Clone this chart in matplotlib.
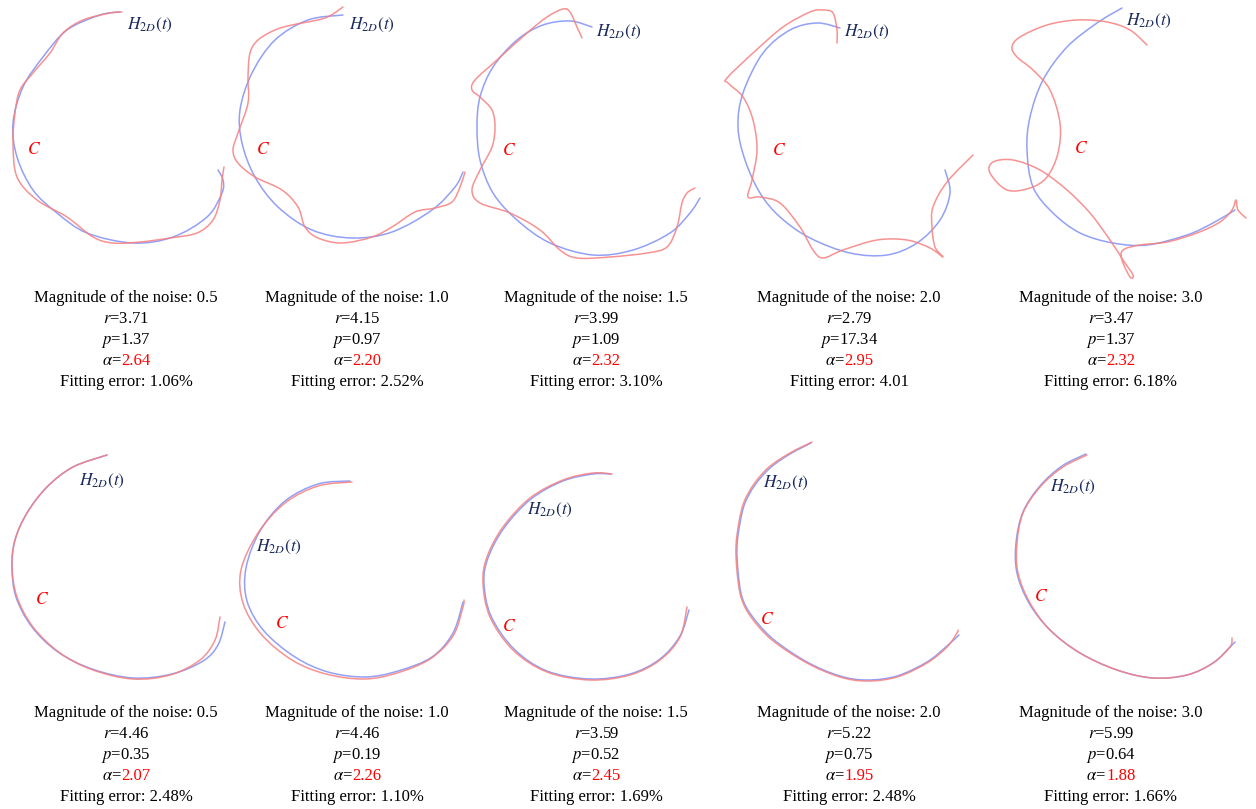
import matplotlib
matplotlib.use('Agg')
import matplotlib.pyplot as plt
from matplotlib.path import Path
from matplotlib.patches import PathPatch

plt.rcParams['font.family'] = 'serif'
plt.rcParams['font.serif'] = ['Liberation Serif', 'DejaVu Serif']
plt.rcParams['mathtext.fontset'] = 'stix'

# noise levels shared by both rows
noise = ['0.5', '1.0', '1.5', '2.0', '3.0']

# fitted parameters, upper row
r_top = ['3.71', '4.15', '3.99', '2.79', '3.47']
p_top = ['1.37', '0.97', '1.09', '17.34', '1.37']
alpha_top = ['2.64', '2.20', '2.32', '2.95', '2.32']
err_top = ['1.06%', '2.52%', '3.10%', '4.01', '6.18%']

# fitted parameters, lower row
r_bot = ['4.46', '4.46', '3.59', '5.22', '5.99']
p_bot = ['0.35', '0.19', '0.52', '0.75', '0.64']
alpha_bot = ['2.07', '2.26', '2.45', '1.95', '1.88']
err_bot = ['2.48%', '1.10%', '1.69%', '2.48%', '1.66%']

# fitted curves H_2D(t), upper row (sheet coordinates, y down)
fit_top = [
    [(120, 12), (100, 15), (67, 30), (43, 57), (23, 87), (13, 123), (17, 157), (33, 190), (57, 213),
     (87, 233), (133, 243), (173, 237), (207, 217), (222, 193), (223, 180), (218, 170)],
    [(343, 15), (308, 20), (275, 40), (252, 73), (240, 110), (242, 143), (255, 177), (278, 207),
     (312, 230), (352, 238), (392, 232), (432, 210), (455, 187), (463, 172)],
    [(592, 27), (570, 21), (543, 25), (517, 40), (493, 67), (480, 97), (477, 127), (480, 160),
     (493, 193), (517, 220), (550, 243), (593, 255), (633, 250), (670, 233), (690, 213), (700, 198)],
    [(840, 28), (817, 23), (790, 30), (763, 53), (743, 93), (738, 127), (745, 160), (760, 193),
     (780, 217), (810, 238), (850, 253), (887, 255), (917, 243), (940, 220), (950, 193), (945, 170)],
    [(1122, 8), (1097, 23), (1067, 47), (1043, 80), (1030, 117), (1027, 150), (1033, 187),
     (1053, 213), (1080, 233), (1113, 243), (1147, 245), (1187, 235), (1213, 223), (1235, 210)],
]

# noisy input curves C, upper row
noisy_top = [
    [(122, 12), (110, 13), (83, 20), (63, 33), (50, 53), (33, 73), (20, 90), (15, 113), (13, 143),
     (17, 177), (37, 200), (67, 217), (93, 237), (113, 243), (140, 242), (170, 238), (197, 233),
     (213, 220), (220, 200), (222, 180), (224, 167)],
    [(343, 7), (325, 18), (292, 25), (275, 30), (258, 40), (250, 53), (248, 77), (248, 103),
     (238, 133), (233, 150), (238, 163), (255, 177), (282, 190), (298, 207), (305, 227), (318, 238),
     (342, 243), (372, 237), (392, 227), (415, 212), (435, 208), (452, 202), (460, 187), (465, 172)],
    [(582, 38), (577, 27), (570, 12), (563, 9), (547, 17), (527, 33), (497, 60), (475, 80), (472, 90),
     (480, 97), (492, 110), (495, 127), (492, 147), (480, 170), (472, 190), (480, 203), (510, 213),
     (540, 230), (560, 250), (577, 258), (610, 257), (647, 253), (667, 247), (677, 227), (682, 203),
     (687, 193), (695, 188)],
    [(837, 43), (837, 30), (833, 13), (823, 10), (810, 12), (783, 27), (753, 53), (727, 78), (728, 83),
     (743, 97), (753, 120), (757, 150), (752, 180), (748, 197), (760, 197), (780, 203), (800, 227),
     (813, 250), (823, 258), (843, 250), (877, 240), (907, 240), (930, 248), (943, 257), (935, 247),
     (932, 227), (933, 207), (947, 182), (973, 155)],
    [(1147, 45), (1130, 30), (1107, 22), (1077, 20), (1047, 25), (1020, 37), (1012, 47), (1017, 57),
     (1033, 70), (1050, 90), (1060, 123), (1058, 153), (1047, 177), (1030, 188), (1007, 190),
     (990, 173), (993, 162), (1013, 160), (1040, 170), (1067, 190), (1090, 213), (1110, 240),
     (1123, 260), (1133, 275), (1130, 277), (1122, 260), (1123, 250), (1140, 245), (1167, 242),
     (1197, 233), (1220, 222), (1232, 210), (1236, 200), (1238, 210), (1246, 218)],
]

# fitted curves, lower row
fit_bot = [
    [(107, 455), (73, 467), (47, 487), (27, 513), (15, 540), (12, 567), (16, 597), (32, 627),
     (58, 652), (92, 669), (133, 678), (172, 674), (203, 661), (218, 645), (225, 622)],
    [(350, 481), (318, 484), (285, 501), (260, 531), (246, 568), (247, 601), (264, 631), (295, 657),
     (328, 672), (365, 677), (398, 671), (432, 657), (453, 633), (463, 602)],
    [(611, 474), (593, 474), (563, 481), (531, 499), (504, 528), (488, 558), (484, 583), (491, 616),
     (514, 649), (547, 671), (590, 679), (630, 674), (660, 659), (680, 636), (689, 610)],
    [(811, 443), (790, 454), (770, 468), (755, 485), (745, 503), (740, 523), (737, 546), (738, 571),
     (742, 597), (752, 616), (773, 639), (807, 662), (840, 676), (867, 680), (897, 676), (927, 662),
     (947, 646), (959, 635)],
    [(1086, 454), (1062, 466), (1040, 486), (1023, 512), (1016, 543), (1017, 573), (1029, 603),
     (1050, 630), (1080, 653), (1117, 670), (1153, 678), (1187, 675), (1213, 663), (1230, 647),
     (1235, 642)],
]

# noisy input curves, lower row
noisy_bot = [
    [(107, 455), (73, 467), (47, 487), (27, 513), (15, 540), (12, 567), (17, 597), (33, 627),
     (60, 653), (93, 670), (133, 679), (170, 675), (200, 660), (215, 640), (220, 617)],
    [(352, 482), (318, 486), (285, 503), (258, 533), (241, 570), (243, 603), (261, 634), (292, 660),
     (326, 674), (364, 679), (397, 673), (430, 659), (453, 636), (463, 607), (464, 600)],
    [(612, 474), (593, 473), (563, 480), (530, 498), (503, 527), (487, 557), (483, 583), (490, 617),
     (513, 650), (547, 672), (590, 680), (630, 675), (660, 660), (680, 637), (687, 607)],
    [(812, 442), (790, 453), (769, 467), (754, 484), (744, 502), (739, 522), (736, 546), (737, 571),
     (741, 597), (751, 617), (772, 640), (807, 663), (840, 677), (867, 681), (897, 677), (927, 663),
     (947, 647), (957, 633), (958, 630)],
    [(1087, 455), (1063, 467), (1040, 487), (1023, 513), (1017, 543), (1018, 573), (1030, 603),
     (1050, 630), (1080, 653), (1117, 670), (1153, 678), (1187, 675), (1213, 663), (1230, 647),
     (1232, 638)],
]

BLUE = '#7f8ff5'
RED = '#f77f7f'
NAVY = '#1b2a5c'

text_x = [126, 357, 596, 849, 1111]
h_top = [(150, 25), (372, 25), (619, 32), (867, 32), (1149, 21)]
c_top = [(34, 150), (263, 150), (509, 151), (779, 151), (1081, 149)]
h_bot = [(102, 481), (279, 547), (550, 510), (786, 483), (1073, 487)]
c_bot = [(42, 600), (282, 624), (509, 627), (767, 620), (1041, 597)]

fig = plt.figure(figsize=(12.56, 8.09), dpi=100)
ax = fig.add_axes([0, 0, 1, 1])
ax.set_xlim(0, 1256)
ax.set_ylim(809, 0)
ax.axis('off')


def draw_curve(pts, color):
    # smooth cubic path through the traced points (Catmull-Rom handles)
    verts = [pts[0]]
    codes = [Path.MOVETO]
    n = len(pts)
    for i in range(n - 1):
        p0 = pts[max(i - 1, 0)]
        p1 = pts[i]
        p2 = pts[i + 1]
        p3 = pts[min(i + 2, n - 1)]
        c1 = (p1[0] + (p2[0] - p0[0]) / 6, p1[1] + (p2[1] - p0[1]) / 6)
        c2 = (p2[0] - (p3[0] - p1[0]) / 6, p2[1] - (p3[1] - p1[1]) / 6)
        verts += [c1, c2, p2]
        codes += [Path.CURVE4] * 3
    patch = PathPatch(Path(verts, codes), fill=False, edgecolor=color, lw=1.1,
                      alpha=0.85, capstyle='round', joinstyle='round')
    ax.add_patch(patch)


def draw_caption(x, y0, dy, nz, r, p, a, err):
    ax.text(x, y0, 'Magnitude of the noise: ' + nz, ha='center', va='baseline', fontsize=12)
    ax.text(x, y0 + dy, '$r$=' + r, ha='center', va='baseline', fontsize=12)
    ax.text(x, y0 + 2 * dy, '$p$=' + p, ha='center', va='baseline', fontsize=12)
    t1 = ax.text(x, y0 + 3 * dy, r'$\alpha$=', ha='right', va='baseline', fontsize=12)
    t2 = ax.text(x, y0 + 3 * dy, a, ha='left', va='baseline', fontsize=12, color='red')
    ax.text(x, y0 + 4 * dy, 'Fitting error: ' + err, ha='center', va='baseline', fontsize=12)
    return t1, t2


pairs = []
for row in range(2):
    fits = fit_top if row == 0 else fit_bot
    noisy = noisy_top if row == 0 else noisy_bot
    hpos = h_top if row == 0 else h_bot
    cpos = c_top if row == 0 else c_bot
    y0 = 302 if row == 0 else 717
    rs = r_top if row == 0 else r_bot
    ps = p_top if row == 0 else p_bot
    als = alpha_top if row == 0 else alpha_bot
    errs = err_top if row == 0 else err_bot
    for i in range(5):
        draw_curve(fits[i], BLUE)
        draw_curve(noisy[i], RED)
        ax.text(hpos[i][0], hpos[i][1], r'$H_{2D}(t)$', ha='center', va='center',
                fontsize=12.5, color=NAVY)
        ax.text(cpos[i][0], cpos[i][1], r'$C$', ha='center', va='center',
                fontsize=12.5, color='red')
        pairs.append((text_x[i], draw_caption(text_x[i], y0, 21, noise[i],
                                              rs[i], ps[i], als[i], errs[i])))

# centre the two-colour alpha lines
renderer = fig.canvas.get_renderer()
for x, (t1, t2) in pairs:
    w1 = t1.get_window_extent(renderer).width
    w2 = t2.get_window_extent(renderer).width
    shift = (w1 - w2) / 2
    t1.set_x(x + shift)
    t2.set_x(x + shift)

fig.savefig('out.png', dpi=100)
